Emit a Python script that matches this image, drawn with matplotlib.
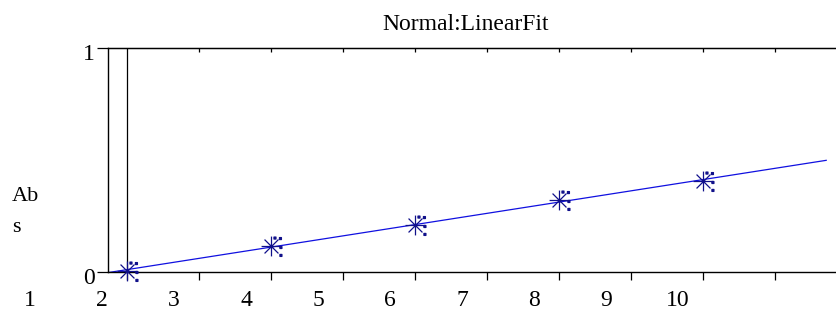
import numpy as np
import matplotlib
matplotlib.use("Agg")
import matplotlib.pyplot as plt
from matplotlib.path import Path
from matplotlib.transforms import ScaledTranslation, blended_transform_factory

plt.rcParams["font.family"] = ["Liberation Serif", "DejaVu Serif"]

# measured standards
conc = [1, 3, 5, 7, 9]
absorb = [0.005, 0.117, 0.21, 0.32, 0.406]
x_ticks = [1, 2, 3, 4, 5, 6, 7, 8, 9, 10]
x_labels = ["1", "2", "3", "4", "5", "6", "7", "8", "9", "10"]
y_ticks = [0, 1]
title = "Normal:LinearFit"
ylabel = "Ab\ns"

x_min, x_max = 0.736, 10.86
fit_end = 10.71

slope, intercept = np.polyfit(conc, absorb, 1)

# asterisk marker with the little square dots next to it
verts, codes = [], []
for dx, dy in [(1, 0), (0, 1), (0.7, 0.7), (0.7, -0.7)]:
    verts += [(-dx, -dy), (dx, dy)]
    codes += [Path.MOVETO, Path.LINETO]
for cx, cy in [(0.9, 0.8), (0.95, -0.1), (0.95, -0.9), (0.35, 0.85)]:
    s = 0.1
    verts += [(cx - s, cy - s), (cx + s, cy - s), (cx + s, cy + s), (cx - s, cy + s), (cx - s, cy - s)]
    codes += [Path.MOVETO, Path.LINETO, Path.LINETO, Path.LINETO, Path.CLOSEPOLY]
star = Path(verts, codes)

fig = plt.figure(figsize=(8.37, 3.2), dpi=100)
ax = fig.add_axes([108 / 837, 48 / 320, 729 / 837, 224 / 320])

xf = np.array([x_min, fit_end])
ax.plot(xf, slope * xf + intercept, color="#1010e0", lw=0.9, zorder=2)
ax.plot(conc, absorb, ls="none", marker=star, ms=15, mec="#10108a", mfc="#10108a",
        mew=0.9, zorder=3, clip_on=False)
ax.axvline(x_ticks[0], color="black", lw=0.9)

ax.set_xlim(x_min, x_max)
ax.set_ylim(0, 1)
ax.spines["right"].set_visible(False)
for s in ["left", "top", "bottom"]:
    ax.spines[s].set_linewidth(1.0)

ax.set_xticks(x_ticks)
ax.set_xticklabels([])
ax.tick_params(axis="x", direction="out", length=6, width=0.9)
ax.set_yticks(y_ticks)
ax.set_yticklabels([])
ax.tick_params(axis="y", direction="out", length=8, width=0.9)

top = ax.secondary_xaxis("top")
top.set_xticks(x_ticks[1:])
top.set_xticklabels([])
top.tick_params(direction="in", length=3, width=0.9)

# x labels sit shifted left of their ticks
shift = ScaledTranslation(-97 / 100, -29 / 100, fig.dpi_scale_trans)
tr = blended_transform_factory(ax.transData, ax.transAxes) + shift
for v, lab in zip(x_ticks, x_labels):
    ax.text(v, 0, lab, transform=tr, ha="center", va="center", fontsize=17, clip_on=False)

ytr = blended_transform_factory(ax.transAxes, ax.transData) + ScaledTranslation(-13 / 100, -6 / 100, fig.dpi_scale_trans)
for v in y_ticks:
    ax.text(0, v, str(v), transform=ytr, ha="right", va="center", fontsize=17)

fig.text(12 / 837, 1 - 212 / 320, ylabel, ha="left", va="center", fontsize=16, linespacing=1.8)
fig.text(466 / 837, 1 - 24 / 320, title, ha="center", va="center", fontsize=17)

fig.savefig("out.png", dpi=100)
